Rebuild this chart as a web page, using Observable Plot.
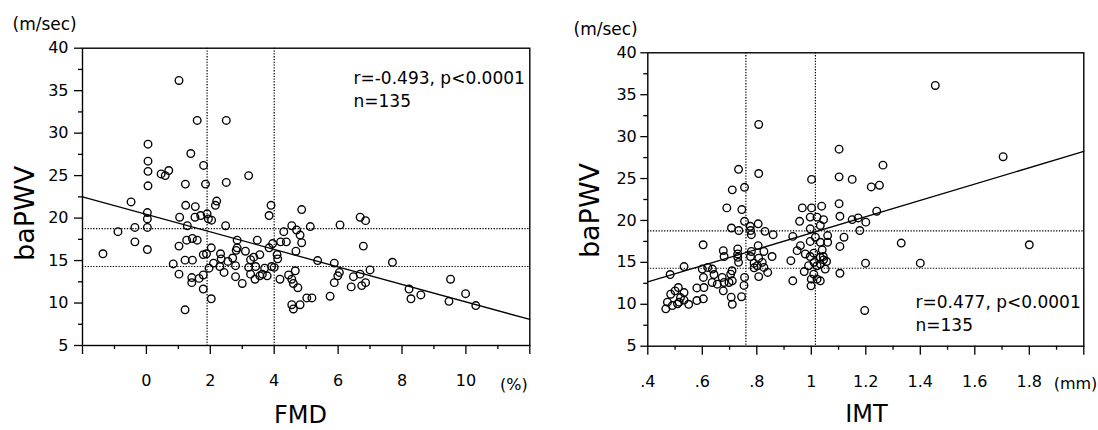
<!DOCTYPE html>
<html><head><meta charset="utf-8">
<script src="https://cdn.jsdelivr.net/npm/d3@7"></script>
<script src="https://cdn.jsdelivr.net/npm/@observablehq/plot@0.6"></script>
<style>
html,body{margin:0;padding:0;background:#fff;}
#wrap{position:relative;width:1098px;height:430px;overflow:hidden;background:#fff;}
#left,#right{position:absolute;top:0;}
#left{left:0px}
#right{left:549px}
</style></head>
<body><div id="wrap"><div id="left"></div><div id="right"></div></div>
<script>
// ---- Left panel: FMD (%) vs baPWV (m/sec)
const fmd = [1.02,1.59,2.5,0.05,0.05,0.05,0.05,1.39,0.46,0.59,0.70,1.79,1.22,1.85,2.5,3.2,-0.48,1.23,1.53,2.2,
  2.16,3.9,3.84,0.03,0.03,0.03,-0.36,-0.89,-0.36,0.03,-1.36,1.04,1.52,1.28,1.9,1.94,2.04,2.48,1.02,1.26,
  1.44,1.59,0.84,1.02,1.21,1.44,1.42,1.42,1.78,1.88,2.03,1.96,1.78,1.78,2.03,1.21,2.32,2.34,2.3,2.43,
  2.79,2.79,2.84,2.81,2.84,3.0,3.47,3.26,3.36,3.2,3.42,3.26,3.55,3.63,3.78,3.55,3.84,3.92,4.09,4.11,
  4.18,4.2,4.3,4.38,4.55,4.86,5.13,4.81,4.86,4.68,6.06,6.69,6.86,6.79,5.36,5.88,6.04,5.99,5.88,4.66,
  4.55,4.6,4.74,6.48,6.69,6.86,6.74,6.41,7.0,7.7,5.75,5.02,5.18,4.55,4.81,4.6,8.22,8.28,8.59,9.52,
  9.47,9.99,10.31,2.55,3.1,3.7,1.65,2.1,3.4,4.0,4.45,1.7,2.7,3.95,4.7];
const fmdPwv = [36.2,31.5,31.5,28.7,26.7,25.5,23.8,27.6,25.2,25.0,25.6,26.2,24.0,24.0,24.2,25.0,21.9,21.5,21.35,22.0,
  21.5,21.5,20.3,20.65,19.9,18.9,18.9,18.4,17.2,16.3,15.8,20.1,20.1,19.1,20.5,19.9,19.75,19.1,16.7,17.4,
  17.6,17.4,14.6,13.4,15.05,15.05,13.0,12.4,15.7,15.8,16.5,14.1,13.3,11.65,10.5,9.2,15.8,15.2,14.3,13.6,
  14.4,13.1,17.4,16.2,16.5,12.3,17.4,15.1,15.4,14.2,14.3,13.4,13.2,13.4,13.2,15.7,16.5,14.3,15.7,15.2,
  12.8,17.2,18.4,17.2,19.1,21.0,19.0,18.0,17.1,16.1,19.2,20.1,19.7,16.7,15.0,14.7,13.6,13.2,12.4,13.8,
  12.8,12.3,11.8,13.1,13.4,12.4,12.05,11.9,13.9,14.8,10.8,10.6,10.6,9.8,9.8,9.3,11.65,10.5,10.95,12.8,
  10.2,11.1,9.7,14.9,16.1,14.1,12.9,14.7,12.8,14.2,13.3,20.3,15.3,17.0,18.6];

// ---- Right panel: IMT (mm) vs baPWV (m/sec)
const imt = [0.807,0.733,0.807,0.755,0.71,1.001,0.69,0.745,0.967,1.001,1.038,1.102,1.102,1.102,1.455,1.704,1.263,1.15,1.22,1.25,
  1.24,1.105,1.15,1.172,1.2,1.178,0.957,0.996,1.021,1.045,0.996,1.033,1.33,1.105,0.996,1.033,1.06,1.199,1.4,1.105,
  1.8,1.196,0.755,0.805,0.707,0.734,0.777,0.78,0.83,0.86,0.932,0.603,0.805,0.73,0.73,0.73,0.677,0.68,0.826,0.856,
  0.948,0.978,1.009,0.925,0.777,0.807,0.802,0.826,0.79,0.807,0.996,1.033,1.045,0.99,1.021,1.033,1.051,0.974,1.009,1.021,
  1.033,0.932,0.999,0.482,0.533,0.6,0.637,0.604,0.643,0.673,0.704,0.698,0.755,0.655,0.68,0.677,0.71,0.753,0.606,0.58,
  0.604,0.58,0.512,0.484,0.533,0.515,0.466,0.49,0.509,0.533,0.472,0.706,0.71,0.744,1.044,1.056,
  0.733,0.636,0.709,0.52,0.5,0.776,0.79,0.82,1.01,1.04,1.0,1.06,0.96,0.62,0.55,0.78,1.12,0.84,1.015];
const imtPwv = [31.45,26.1,25.6,23.95,23.65,24.9,21.5,21.3,21.5,21.5,21.7,28.5,25.2,22.0,36.1,27.6,26.6,24.9,24.0,24.2,
  21.1,20.5,20.1,20.3,19.8,18.8,19.9,20.4,20.4,20.1,19.0,19.4,17.3,16.9,17.5,17.4,17.4,14.9,14.9,13.7,
  17.1,9.26,19.9,19.6,19.1,18.8,18.8,18.3,18.7,18.3,18.1,17.1,17.0,16.6,16.0,15.6,16.4,15.7,16.3,15.7,
  16.4,16.0,16.1,15.2,15.7,15.5,14.6,14.4,14.35,13.3,15.7,15.6,15.3,14.6,14.6,14.8,14.2,13.9,13.6,13.0,
  12.8,12.8,12.2,13.55,14.5,14.2,14.2,13.2,13.55,13.2,13.6,12.6,13.2,12.4,12.6,11.6,12.8,12.25,12.0,11.95,
  10.65,10.45,12.0,11.2,11.4,10.25,9.46,9.85,10.05,10.5,10.25,10.85,10.0,10.9,15.7,15.1,
  15.0,12.6,14.0,10.8,11.6,19.3,14.9,15.0,15.0,16.5,13.0,18.2,17.0,14.4,10.0,16.3,18.0,13.8,18.0];

// ---- Axes, reference lines, fits, labels
const pwvTicks = [5,10,15,20,25,30,35,40];
const pwvMinor = [7.5,12.5,17.5,22.5,27.5,32.5,37.5];
const pwvCuts = [18.75, 14.3];
const fmdTicks = [-2,0,2,4,6,8,10,12];
const fmdTickLabels = ["","0","2","4","6","8","10",""];
const fmdMinor = [-1,1,3,5,7,9,11];
const fmdCuts = [1.9, 4.0];
const imtTicks = [0.4,0.6,0.8,1.0,1.2,1.4,1.6,1.8,2.0];
const imtTickLabels = [".4",".6",".8","1","1.2","1.4","1.6","1.8",""];
const imtMinor = [0.5,0.7,0.9,1.1,1.3,1.5,1.7,1.9];
const imtCuts = [0.76, 1.015];
const fmdFit = {intercept: 20.43, slope: -1.03};
const imtFit = {intercept: 8.77, slope: 9.73};
const fmdStats = ["r=-0.493, p<0.0001", "n=135"];
const imtStats = ["r=0.477, p<0.0001", "n=135"];
const yTitle = "baPWV", yUnit = "(m/sec)";

function panel(o) {
  const pts = o.xs.map((x, i) => ({x, y: o.ys[i]}));
  const fitLine = o.xDomain.map(x => ({x, y: o.fit.intercept + o.fit.slope * x}));
  const dotted = {stroke: "black", strokeWidth: 1.2, strokeDasharray: "1.3,1.5"};
  return Plot.plot({
    width: 549, height: 430,
    marginLeft: o.ml, marginRight: o.mr, marginTop: o.mt, marginBottom: o.mb,
    x: {domain: o.xDomain},
    y: {domain: [5, 40]},
    style: {fontFamily: "DejaVu Sans", fontSize: "16px", color: "black", background: "white"},
    marks: [
      Plot.ruleX(o.xCuts, dotted),
      Plot.ruleY(pwvCuts, dotted),
      Plot.line(fitLine, {x: "x", y: "y", stroke: "black", strokeWidth: 1.3}),
      Plot.dot(pts, {x: "x", y: "y", r: 3.8, stroke: "black", strokeWidth: 1.35, fill: "none"}),
      Plot.axisY({ticks: pwvTicks, tickSize: o.yTick, tickPadding: o.yPad, tickFormat: d => String(d), label: null, fontSize: 16, strokeWidth: 1.3}),
      Plot.axisY({ticks: pwvMinor, tickSize: 4, tickFormat: () => "", label: null, strokeWidth: 1.3}),
      Plot.axisX({ticks: o.xTicks, tickSize: 9, tickPadding: 20, tickFormat: d => o.xLabels[o.xTicks.indexOf(d)] ?? "", label: null, fontSize: 16, strokeWidth: 1.3}),
      Plot.axisX({ticks: o.xMinor, tickSize: 4, tickFormat: () => "", label: null, strokeWidth: 1.3}),
      Plot.frame({stroke: "black", strokeWidth: 1.4}),
      Plot.text([yUnit], {text: d => d, frameAnchor: "top-left", textAnchor: "start", lineAnchor: "bottom", dx: o.unitDx, dy: o.unitDy, fontSize: 17}),
      Plot.text([yTitle], {text: d => d, frameAnchor: "left", rotate: -90, textAnchor: "middle", lineAnchor: "bottom", dx: o.ytDx, dy: o.ytDy, fontSize: 27}),
      Plot.text([o.xTitle], {text: d => d, frameAnchor: "bottom", textAnchor: "middle", lineAnchor: "bottom", dx: o.xtDx, dy: o.xtDy, fontSize: 24}),
      Plot.text([o.xUnit], {text: d => d, frameAnchor: "bottom-right", textAnchor: "middle", lineAnchor: "bottom", dx: o.xuDx, dy: o.xuDy, fontSize: 16}),
      Plot.text([o.stats[0]], {text: d => d, frameAnchor: o.statAnchor, textAnchor: "start", lineAnchor: "bottom", dx: o.stDx, dy: o.stDy[0], fontSize: 17}),
      Plot.text([o.stats[1]], {text: d => d, frameAnchor: o.statAnchor, textAnchor: "start", lineAnchor: "bottom", dx: o.stDx, dy: o.stDy[1], fontSize: 17})
    ]
  });
}

document.getElementById("left").append(panel({
  xs: fmd, ys: fmdPwv, xDomain: [-2, 12], xTicks: fmdTicks, xLabels: fmdTickLabels, xMinor: fmdMinor,
  xCuts: fmdCuts, fit: fmdFit, stats: fmdStats, xTitle: "FMD", xUnit: "(%)",
  ml: 82, mr: 19.7, mt: 47.7, mb: 85, yTick: 8, yPad: 6,
  unitDx: -70, unitDy: -18.7, ytDx: -49, ytDy: 16.6, xtDx: -5.6, xtDy: 77, xuDx: -16, xuDy: 44,
  statAnchor: "top-right", stDx: -176.3, stDy: [35.3, 58.3]
}));

document.getElementById("right").append(panel({
  xs: imt, ys: imtPwv, xDomain: [0.4, 2.0], xTicks: imtTicks, xLabels: imtTickLabels, xMinor: imtMinor,
  xCuts: imtCuts, fit: imtFit, stats: imtStats, xTitle: "IMT", xUnit: "(mm)",
  ml: 98.3, mr: 14.7, mt: 52.3, mb: 84.3, yTick: 7, yPad: 4,
  unitDx: -74.3, unitDy: -18.3, ytDx: -49.3, ytDy: 11, xtDx: 0.7, xtDy: 75.3, xuDx: -8.3, xuDy: 42.3,
  statAnchor: "bottom-right", stDx: -168.3, stDy: [-38.4, -15.7]
}));
</script>
</body></html>
